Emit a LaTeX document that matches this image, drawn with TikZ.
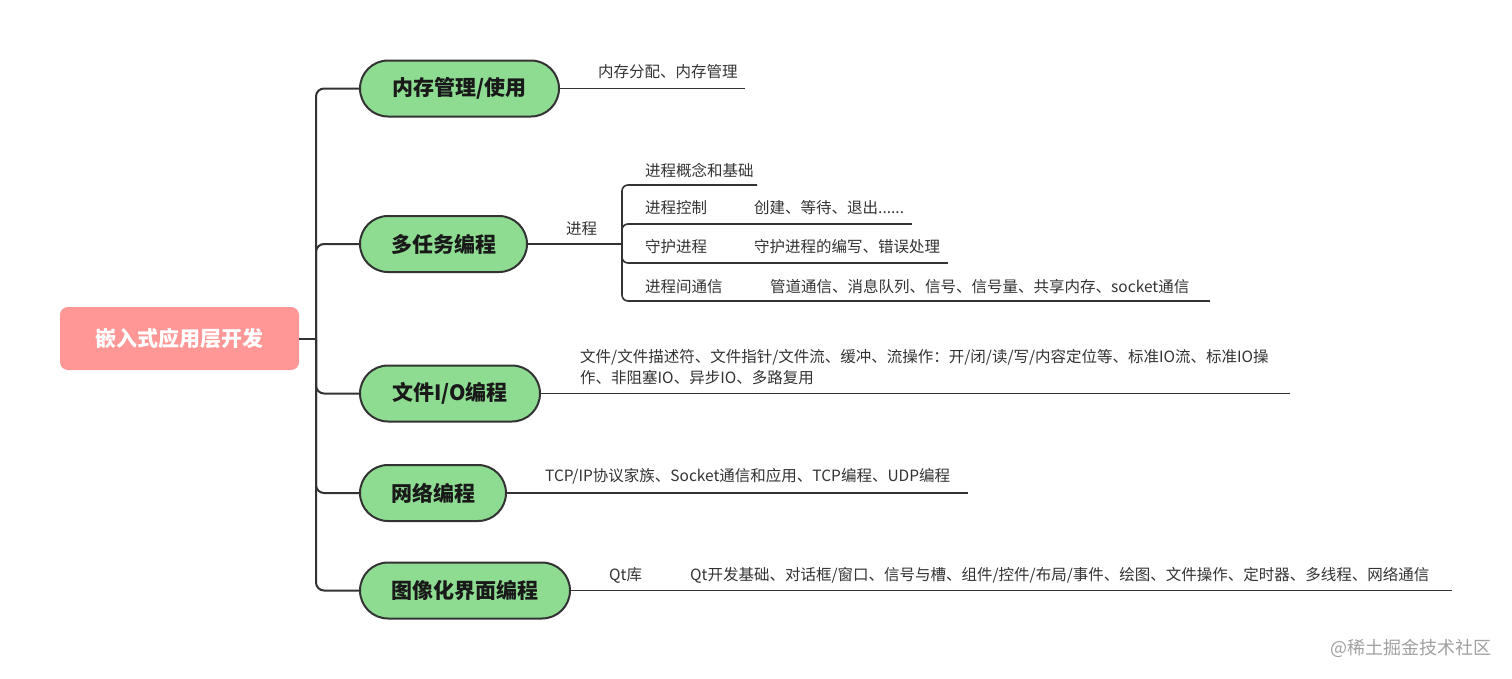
\documentclass[tikz,border=0pt]{standalone}
\usepackage{fontspec}
\setmainfont{Noto Sans CJK SC}
\definecolor{pinkfill}{HTML}{FF9797}
\definecolor{greenfill}{HTML}{8EDC92}
\definecolor{linec}{HTML}{333333}
\definecolor{textc}{HTML}{333333}
\definecolor{wmc}{HTML}{A0A0A0}
\begin{document}
\begin{tikzpicture}[x=1pt,y=-1pt,
  root/.style={fill=pinkfill, rounded corners=8pt, minimum width=239pt, minimum height=63pt, text=white, font=\bfseries\fontsize{21}{25}\selectfont, inner sep=0pt},
  branch/.style={draw=linec, line width=2pt, fill=greenfill, rounded corners=28pt, minimum height=56pt, font=\bfseries\fontsize{21}{25}\selectfont, text=black!90, inner sep=0pt},
  leaf/.style={anchor=west, inner sep=0pt, font=\fontsize{15.5}{21}\selectfont, text=textc, align=left},
  conn/.style={draw=linec, line width=2pt, rounded corners=8pt},
  uline/.style={draw=linec, line width=1.6pt, rounded corners=6pt},
]
\useasboundingbox (0,0) rectangle (1512,678);

% root and branches
\node[root] (root) at (179.5,338.5) {嵌入式应用层开发};
\coordinate (trunk) at (316,338.5);
\node[branch, minimum width=199pt] (b1) at (459.5,88.5) {内存管理/使用};
\node[branch, minimum width=167pt] (b2) at (443.5,244) {多任务编程};
\node[branch, minimum width=180pt] (b3) at (450,393.5) {文件I/O编程};
\node[branch, minimum width=146pt] (b4) at (433,493) {网络编程};
\node[branch, minimum width=210pt] (b5) at (465,590.5) {图像化界面编程};

\draw[conn] (root.east) -- (trunk);
\draw[conn] (trunk) |- (b1.west);
\draw[conn] (trunk) |- (b2.west);
\draw[conn] (trunk) |- (b3.west);
\draw[conn] (trunk) |- (b4.west);
\draw[conn] (trunk) |- (b5.west);

% branch 1
\node[leaf] (l1) at (598,72) {内存分配、内存管理};
\coordinate (l1e) at (745,88.5);
\draw[uline] (b1.east) -- (l1e);

% branch 2
\node[leaf] (p) at (566,229) {进程};
\coordinate (pj) at (622,244);
\draw[uline] (b2.east) -- (pj);

\node[leaf] (c1) at (645,170) {进程概念和基础};
\coordinate (c1e) at (757,185);
\draw[uline] (pj) |- (c1e);

\node[leaf] (c2) at (645,208) {进程控制};
\coordinate (c2e) at (745,224);
\draw[uline] (pj) |- (c2e);
\node[leaf] (g2) at (754,208) {创建、等待、退出......};
\coordinate (g2e) at (912,224);
\draw[uline] (c2e) -- (g2e);

\node[leaf] (c3) at (645,247) {守护进程};
\coordinate (c3e) at (745,263);
\draw[uline] (pj) |- (c3e);
\node[leaf] (g3) at (754,247) {守护进程的编写、错误处理};
\coordinate (g3e) at (948,263);
\draw[uline] (c3e) -- (g3e);

\node[leaf] (c4) at (645,287) {进程间通信};
\coordinate (c4e) at (760,301);
\draw[uline] (pj) |- (c4e);
\node[leaf] (g4) at (770,287) {管道通信、消息队列、信号、信号量、共享内存、socket通信};
\coordinate (g4e) at (1210,301);
\draw[uline] (c4e) -- (g4e);

% branch 3
\node[leaf] (l3) at (580,367.5) {文件/文件描述符、文件指针/文件流、缓冲、流操作：开/闭/读/写/内容定位等、标准IO流、标准IO操\\作、非阻塞IO、异步IO、多路复用};
\coordinate (l3e) at (1290,393.5);
\draw[uline] (b3.east) -- (l3e);

% branch 4
\node[leaf] (l4) at (545,476) {TCP/IP协议家族、Socket通信和应用、TCP编程、UDP编程};
\coordinate (l4e) at (968,493);
\draw[uline] (b4.east) -- (l4e);

% branch 5
\node[leaf] (q) at (609,575) {Qt库};
\coordinate (qe) at (680,590.5);
\draw[uline] (b5.east) -- (qe);
\node[leaf] (l5) at (690,575) {Qt开发基础、对话框/窗口、信号与槽、组件/控件/布局/事件、绘图、文件操作、定时器、多线程、网络通信};
\coordinate (l5e) at (1452,590.5);
\draw[uline] (qe) -- (l5e);

% watermark
\node[anchor=east, inner sep=0pt, font=\fontsize{18}{20}\selectfont, text=wmc] (wm) at (1492,648) {@稀土掘金技术社区};
\end{tikzpicture}
\end{document}
